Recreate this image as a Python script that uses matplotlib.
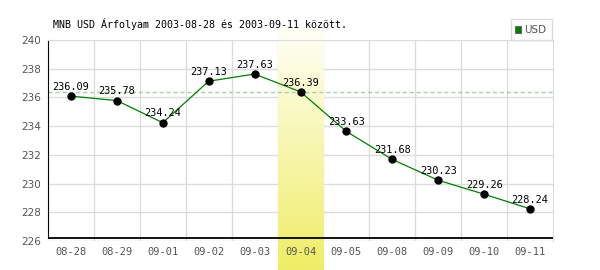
import numpy as np
import matplotlib.pyplot as plt
from matplotlib.patches import Rectangle

# Data
dates = ["08-28", "08-29", "09-01", "09-02", "09-03", "09-04",
         "09-05", "09-08", "09-09", "09-10", "09-11"]
usd = [236.09, 235.78, 234.24, 237.13, 237.63, 236.39,
       233.63, 231.68, 230.23, 229.26, 228.24]
highlight = 5          # index of the highlighted day (09-04)
y_ticks = [226, 228, 230, 232, 234, 236, 238, 240]

title = "MNB USD Árfolyam 2003-08-28 és 2003-09-11 között."
mono = "DejaVu Sans Mono"
grid_col = "#dcdcdc"
tick_col = "#555555"

fig = plt.figure(figsize=(6, 2.7), dpi=100)
ax = fig.add_axes([48 / 600, 1 - 241 / 270, 505 / 600, 201 / 270])

x = np.arange(len(dates))
ax.set_xlim(-0.5, len(dates) - 0.5)
ax.set_ylim(226, 240)

# grid: horizontal at y ticks, vertical at category boundaries
ax.set_yticks(y_ticks)
ax.set_xticks(x)
ax.set_xticks(x[:-1] + 0.5, minor=True)
ax.grid(True, which="major", axis="y", color=grid_col, lw=1, zorder=0)
ax.grid(True, which="minor", axis="x", color=grid_col, lw=1, zorder=0)
ax.set_axisbelow(True)
ax.tick_params(which="both", length=0)
ax.tick_params(axis="x", labelbottom=False)
ax.tick_params(axis="y", pad=5, labelsize=7.5, labelcolor=tick_col)

# x tick labels as texts so they sit above the highlight column
for xi, d in zip(x, dates):
    ax.annotate(d, (xi, 226), xytext=(0, -4), textcoords="offset points",
                ha="center", va="top", fontsize=7.5, family=mono,
                color=tick_col, zorder=6, annotation_clip=False)

for side in ["top", "right"]:
    ax.spines[side].set_color(grid_col)
ax.spines["bottom"].set_visible(False)
y_base = 226.21
ax.spines["left"].set_bounds(y_base, 240)
ax.spines["left"].set_color("black")
ax.axhline(y_base, color="black", lw=1.3, zorder=3)

# highlighted day column with vertical gradient, running past the plot
top_c = np.array([1.0, 1.0, 0.97])
bot_c = np.array([0.94, 0.93, 0.40])
t = np.linspace(0, 1, 100)[:, None]
grad = (top_c + (bot_c - top_c) * t)[:, None, :]
ax.imshow(grad, extent=[highlight - 0.5, highlight + 0.5, 223.95, 240.84],
          aspect="auto", clip_on=False, zorder=1, interpolation="bilinear")
ax.set_xlim(-0.5, len(dates) - 0.5)
ax.set_ylim(226, 240)

# reference line at the highlighted day's value
ax.axhline(usd[highlight], color="#a8d0a8", lw=1, ls=(0, (3, 2)), zorder=2)

ax.plot(x, usd, color="#008000", lw=0.9, zorder=3)
ax.plot(x, usd, "o", color="black", ms=5, zorder=4)

for xi, v in zip(x, usd):
    ax.annotate(f"{v:.2f}", (xi, v), xytext=(0, 4.5), textcoords="offset points",
                ha="center", va="baseline", fontsize=7.4, family=mono,
                color="black", zorder=5)

fig.text(53 / 600, 1 - 24 / 270, title, ha="left", va="center",
         fontsize=7.2, family=mono, color="black")

# legend box
fig.add_artist(Rectangle((511 / 600, 1 - 40 / 270), 41 / 600, 21 / 270,
                         transform=fig.transFigure, fill=False,
                         ec=grid_col, lw=1))
fig.add_artist(Rectangle((515 / 600, 1 - 33 / 270), 6 / 600, 7 / 270,
                         transform=fig.transFigure, fc="#008000",
                         ec="#666666", lw=0.8))
fig.text(524 / 600, 1 - 30 / 270, "USD", ha="left", va="center",
         fontsize=7.5, color=tick_col)

fig.savefig("out.png", dpi=100)
